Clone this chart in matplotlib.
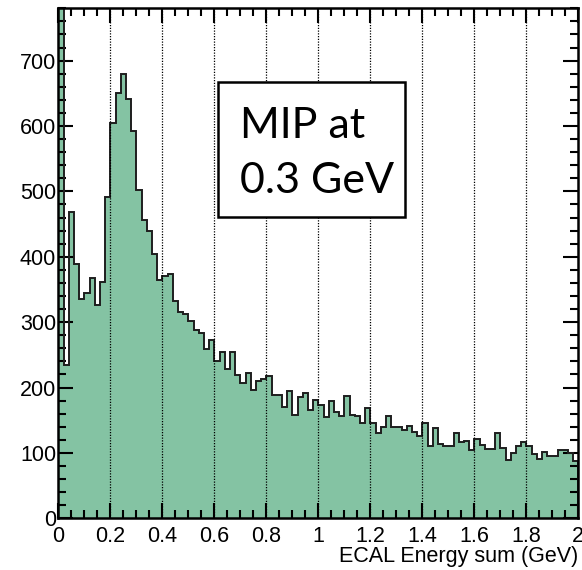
import matplotlib
matplotlib.use("Agg")
import matplotlib.pyplot as plt
from matplotlib.patches import Rectangle
from matplotlib.ticker import MultipleLocator
import numpy as np

# ECAL energy sum histogram, 100 bins of 0.02 GeV (first bin is off scale)
bin_edges = np.linspace(0, 2, 101)
counts = [
    1000, 234, 469, 389, 336, 345, 367, 327, 362, 491,
    605, 650, 680, 641, 593, 502, 457, 440, 404, 364,
    370, 374, 333, 315, 313, 302, 288, 283, 259, 272,
    240, 254, 228, 254, 219, 207, 222, 196, 210, 213,
    218, 188, 188, 170, 195, 158, 186, 191, 166, 181,
    173, 155, 179, 163, 156, 187, 158, 156, 145, 169,
    145, 130, 139, 156, 139, 139, 135, 141, 132, 126,
    145, 110, 138, 114, 110, 110, 130, 117, 118, 105,
    122, 112, 106, 106, 131, 108, 89, 100, 111, 117,
    110, 98, 90, 102, 95, 95, 105, 105, 100, 87,
]
x_ticks = [0, 0.2, 0.4, 0.6, 0.8, 1.0, 1.2, 1.4, 1.6, 1.8, 2.0]
x_labels = ["0", "0.2", "0.4", "0.6", "0.8", "1", "1.2", "1.4", "1.6", "1.8", "2"]
y_ticks = [0, 100, 200, 300, 400, 500, 600, 700]

plt.rcParams["font.family"] = ["Liberation Sans", "DejaVu Sans"]

fig = plt.figure(figsize=(5.82, 5.70), dpi=100)
ax = fig.add_axes([0.1002, 0.0907, 0.8935, 0.8947])

ax.stairs(counts, bin_edges, fill=True, color="#84c3a3", zorder=1)
ax.stairs(counts, bin_edges, color="#1e1e1e", linewidth=1.4, zorder=2)

# dotted vertical grid at major x ticks
for xv in x_ticks[1:-1]:
    ax.axvline(xv, color="black", linestyle=(0, (1, 1.2)), linewidth=0.9, zorder=3)

ax.set_xlim(0, 2)
ax.set_ylim(0, 780)
ax.set_xticks(x_ticks)
ax.set_xticklabels(x_labels)
ax.set_yticks(y_ticks)
ax.xaxis.set_minor_locator(MultipleLocator(0.05))
ax.yaxis.set_minor_locator(MultipleLocator(20))
ax.tick_params(which="both", direction="in", top=True, right=True,
               labelsize=15.5, width=1.5, zorder=4)
ax.tick_params(which="major", length=10.5)
ax.tick_params(which="minor", length=5.5)
ax.tick_params(axis="x", pad=5.5)
ax.tick_params(axis="y", pad=1.5)
for sp in ax.spines.values():
    sp.set_linewidth(1.8)
    sp.set_zorder(5)

fig.text(0.993, 1 - 546 / 570, "ECAL Energy sum (GeV)", ha="right", va="top",
         fontsize=15.5)

# annotation box
ax.add_patch(Rectangle((0.615, 461), 0.718, 207, facecolor="white",
                       edgecolor="black", linewidth=1.8, zorder=6))
ax.text(0.7, 582, "MIP at", fontsize=31, family=["Lato", "DejaVu Sans"],
        va="baseline", ha="left", zorder=7)
ax.text(0.7, 497, "0.3 GeV", fontsize=31, family=["Lato", "DejaVu Sans"],
        va="baseline", ha="left", zorder=7)

fig.savefig("out.png", dpi=100)
